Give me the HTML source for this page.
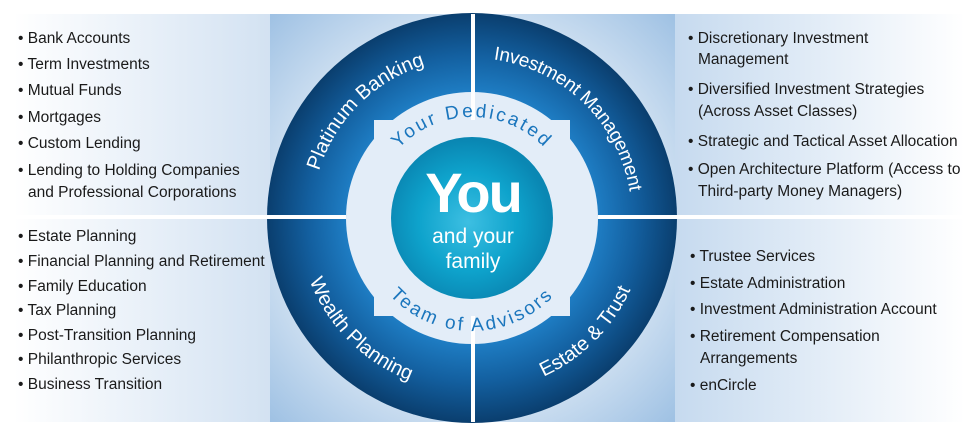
<!DOCTYPE html>
<html><head><meta charset="utf-8"><style>
html,body{margin:0;padding:0;background:#fff;}
svg{display:block;}
text{font-family:"Liberation Sans",sans-serif;}
</style></head><body>
<svg width="978" height="439" viewBox="0 0 978 439" xmlns="http://www.w3.org/2000/svg">
<defs>
<linearGradient id="lp" x1="0" y1="0" x2="1" y2="0">
<stop offset="0" stop-color="#ffffff"/><stop offset="1" stop-color="#d3e2f2"/></linearGradient>
<linearGradient id="rp" x1="0" y1="0" x2="1" y2="0">
<stop offset="0" stop-color="#c6daef"/><stop offset="1" stop-color="#ffffff"/></linearGradient>
<radialGradient id="cp" cx="472" cy="218" r="290" gradientUnits="userSpaceOnUse">
<stop offset="0.6" stop-color="#d8e6f4"/><stop offset="1" stop-color="#9dc0e3"/></radialGradient>
<radialGradient id="ring" cx="472" cy="218" r="205" gradientUnits="userSpaceOnUse">
<stop offset="0.6" stop-color="#1f7fc6"/><stop offset="0.8" stop-color="#135f9f"/><stop offset="1" stop-color="#0a3e6e"/></radialGradient>
<radialGradient id="teal" cx="468" cy="222" r="82" gradientUnits="userSpaceOnUse">
<stop offset="0" stop-color="#3dbfe2"/><stop offset="0.6" stop-color="#0ea3cc"/><stop offset="1" stop-color="#0a87b3"/></radialGradient>
<path id="topO" d="M 312 218 A 160 160 0 0 1 632 218"/>
<path id="botO" d="M 298 218 A 174 174 0 0 0 646 218"/>
<path id="topI" d="M 371 218 A 101 101 0 0 1 573 218"/>
<path id="botI" d="M 359 218 A 113 113 0 0 0 585 218"/>
</defs>
<rect x="14" y="14" width="256" height="408" fill="url(#lp)"/>
<rect x="675" y="14" width="290" height="408" fill="url(#rp)"/>
<rect x="270" y="14" width="405" height="408" fill="url(#cp)"/>
<circle cx="472" cy="218" r="205" fill="url(#ring)"/>
<circle cx="472" cy="218" r="126" fill="#e3edf8"/>
<rect x="374" y="120" width="196" height="196" fill="#e3edf8"/>
<rect x="471" y="14" width="4" height="106" fill="#fff"/>
<rect x="471" y="316" width="4" height="106" fill="#fff"/>
<rect x="14" y="215" width="332" height="4" fill="#fff"/>
<rect x="598" y="215" width="367" height="4" fill="#fff"/>
<circle cx="472" cy="218" r="81" fill="url(#teal)"/>
<g fill="#fff" font-size="20">
<text><textPath href="#topO" startOffset="25%" text-anchor="middle">Platinum Banking</textPath></text>
<text font-size="19" letter-spacing="-0.3"><textPath href="#topO" startOffset="74.5%" text-anchor="middle">Investment Management</textPath></text>
<text><textPath href="#botO" startOffset="25%" text-anchor="middle">Wealth Planning</textPath></text>
<text><textPath href="#botO" startOffset="75%" text-anchor="middle">Estate &amp; Trust</textPath></text>
</g>
<g fill="#1b76bd" font-size="19" letter-spacing="2.5">
<text><textPath href="#topI" startOffset="50%" text-anchor="middle">Your Dedicated</textPath></text>
<text><textPath href="#botI" startOffset="50%" text-anchor="middle">Team of Advisors</textPath></text>
</g>
<g fill="#fff" text-anchor="middle">
<text x="473" y="212" font-size="56" font-weight="bold" letter-spacing="-2">You</text>
<text x="473" y="243" font-size="21">and your</text>
<text x="473" y="268" font-size="21">family</text>
</g>
<g fill="#1a1a1a" font-size="15.5">
<text x="18" y="43">• Bank Accounts</text>
<text x="18" y="69">• Term Investments</text>
<text x="18" y="95">• Mutual Funds</text>
<text x="18" y="122">• Mortgages</text>
<text x="18" y="148">• Custom Lending</text>
<text x="18" y="175">• Lending to Holding Companies</text>
<text x="28" y="197">and Professional Corporations</text>
<text x="18" y="241">• Estate Planning</text>
<text x="18" y="266">• Financial Planning and Retirement</text>
<text x="18" y="291">• Family Education</text>
<text x="18" y="315">• Tax Planning</text>
<text x="18" y="340">• Post-Transition Planning</text>
<text x="18" y="364">• Philanthropic Services</text>
<text x="18" y="389">• Business Transition</text>
<text x="688" y="43">• Discretionary Investment</text>
<text x="698" y="64">Management</text>
<text x="688" y="94">• Diversified Investment Strategies</text>
<text x="698" y="116">(Across Asset Classes)</text>
<text x="688" y="146">• Strategic and Tactical Asset Allocation</text>
<text x="688" y="174">• Open Architecture Platform (Access to</text>
<text x="698" y="196">Third-party Money Managers)</text>
<text x="690" y="261">• Trustee Services</text>
<text x="690" y="288">• Estate Administration</text>
<text x="690" y="314">• Investment Administration Account</text>
<text x="690" y="341">• Retirement Compensation</text>
<text x="700" y="363">Arrangements</text>
<text x="690" y="390">• enCircle</text>
</g>
</svg>
</body></html>
